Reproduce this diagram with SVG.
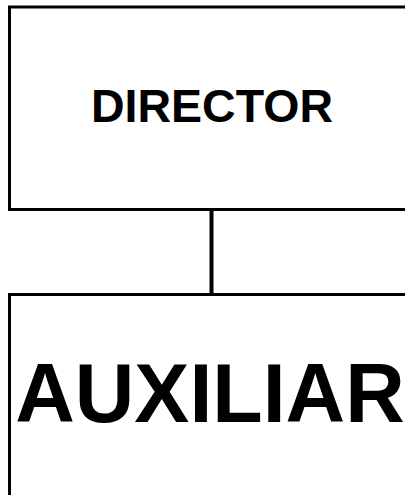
<svg xmlns="http://www.w3.org/2000/svg" width="405" height="495" viewBox="0 0 405 495">
<style>
.box{fill:#fff;stroke:#000;stroke-width:3}
.t{font-family:"Liberation Sans",Arial,sans-serif;font-weight:bold;fill:#000;text-anchor:middle}
</style>
<rect width="405" height="495" fill="#fff"/>
<g id="connectors">
<line x1="211.5" y1="209.5" x2="211.5" y2="294.5" stroke="#000" stroke-width="4"/>
</g>
<g id="director">
<rect class="box" x="9.5" y="7" width="420" height="202.5"/>
<text class="t" x="212" y="121.5" font-size="46.5">DIRECTOR</text>
</g>
<g id="auxiliar">
<rect class="box" x="9.5" y="294.5" width="420" height="230"/>
<text class="t" x="210" y="421.5" font-size="82.5">AUXILIAR</text>
</g>
</svg>
